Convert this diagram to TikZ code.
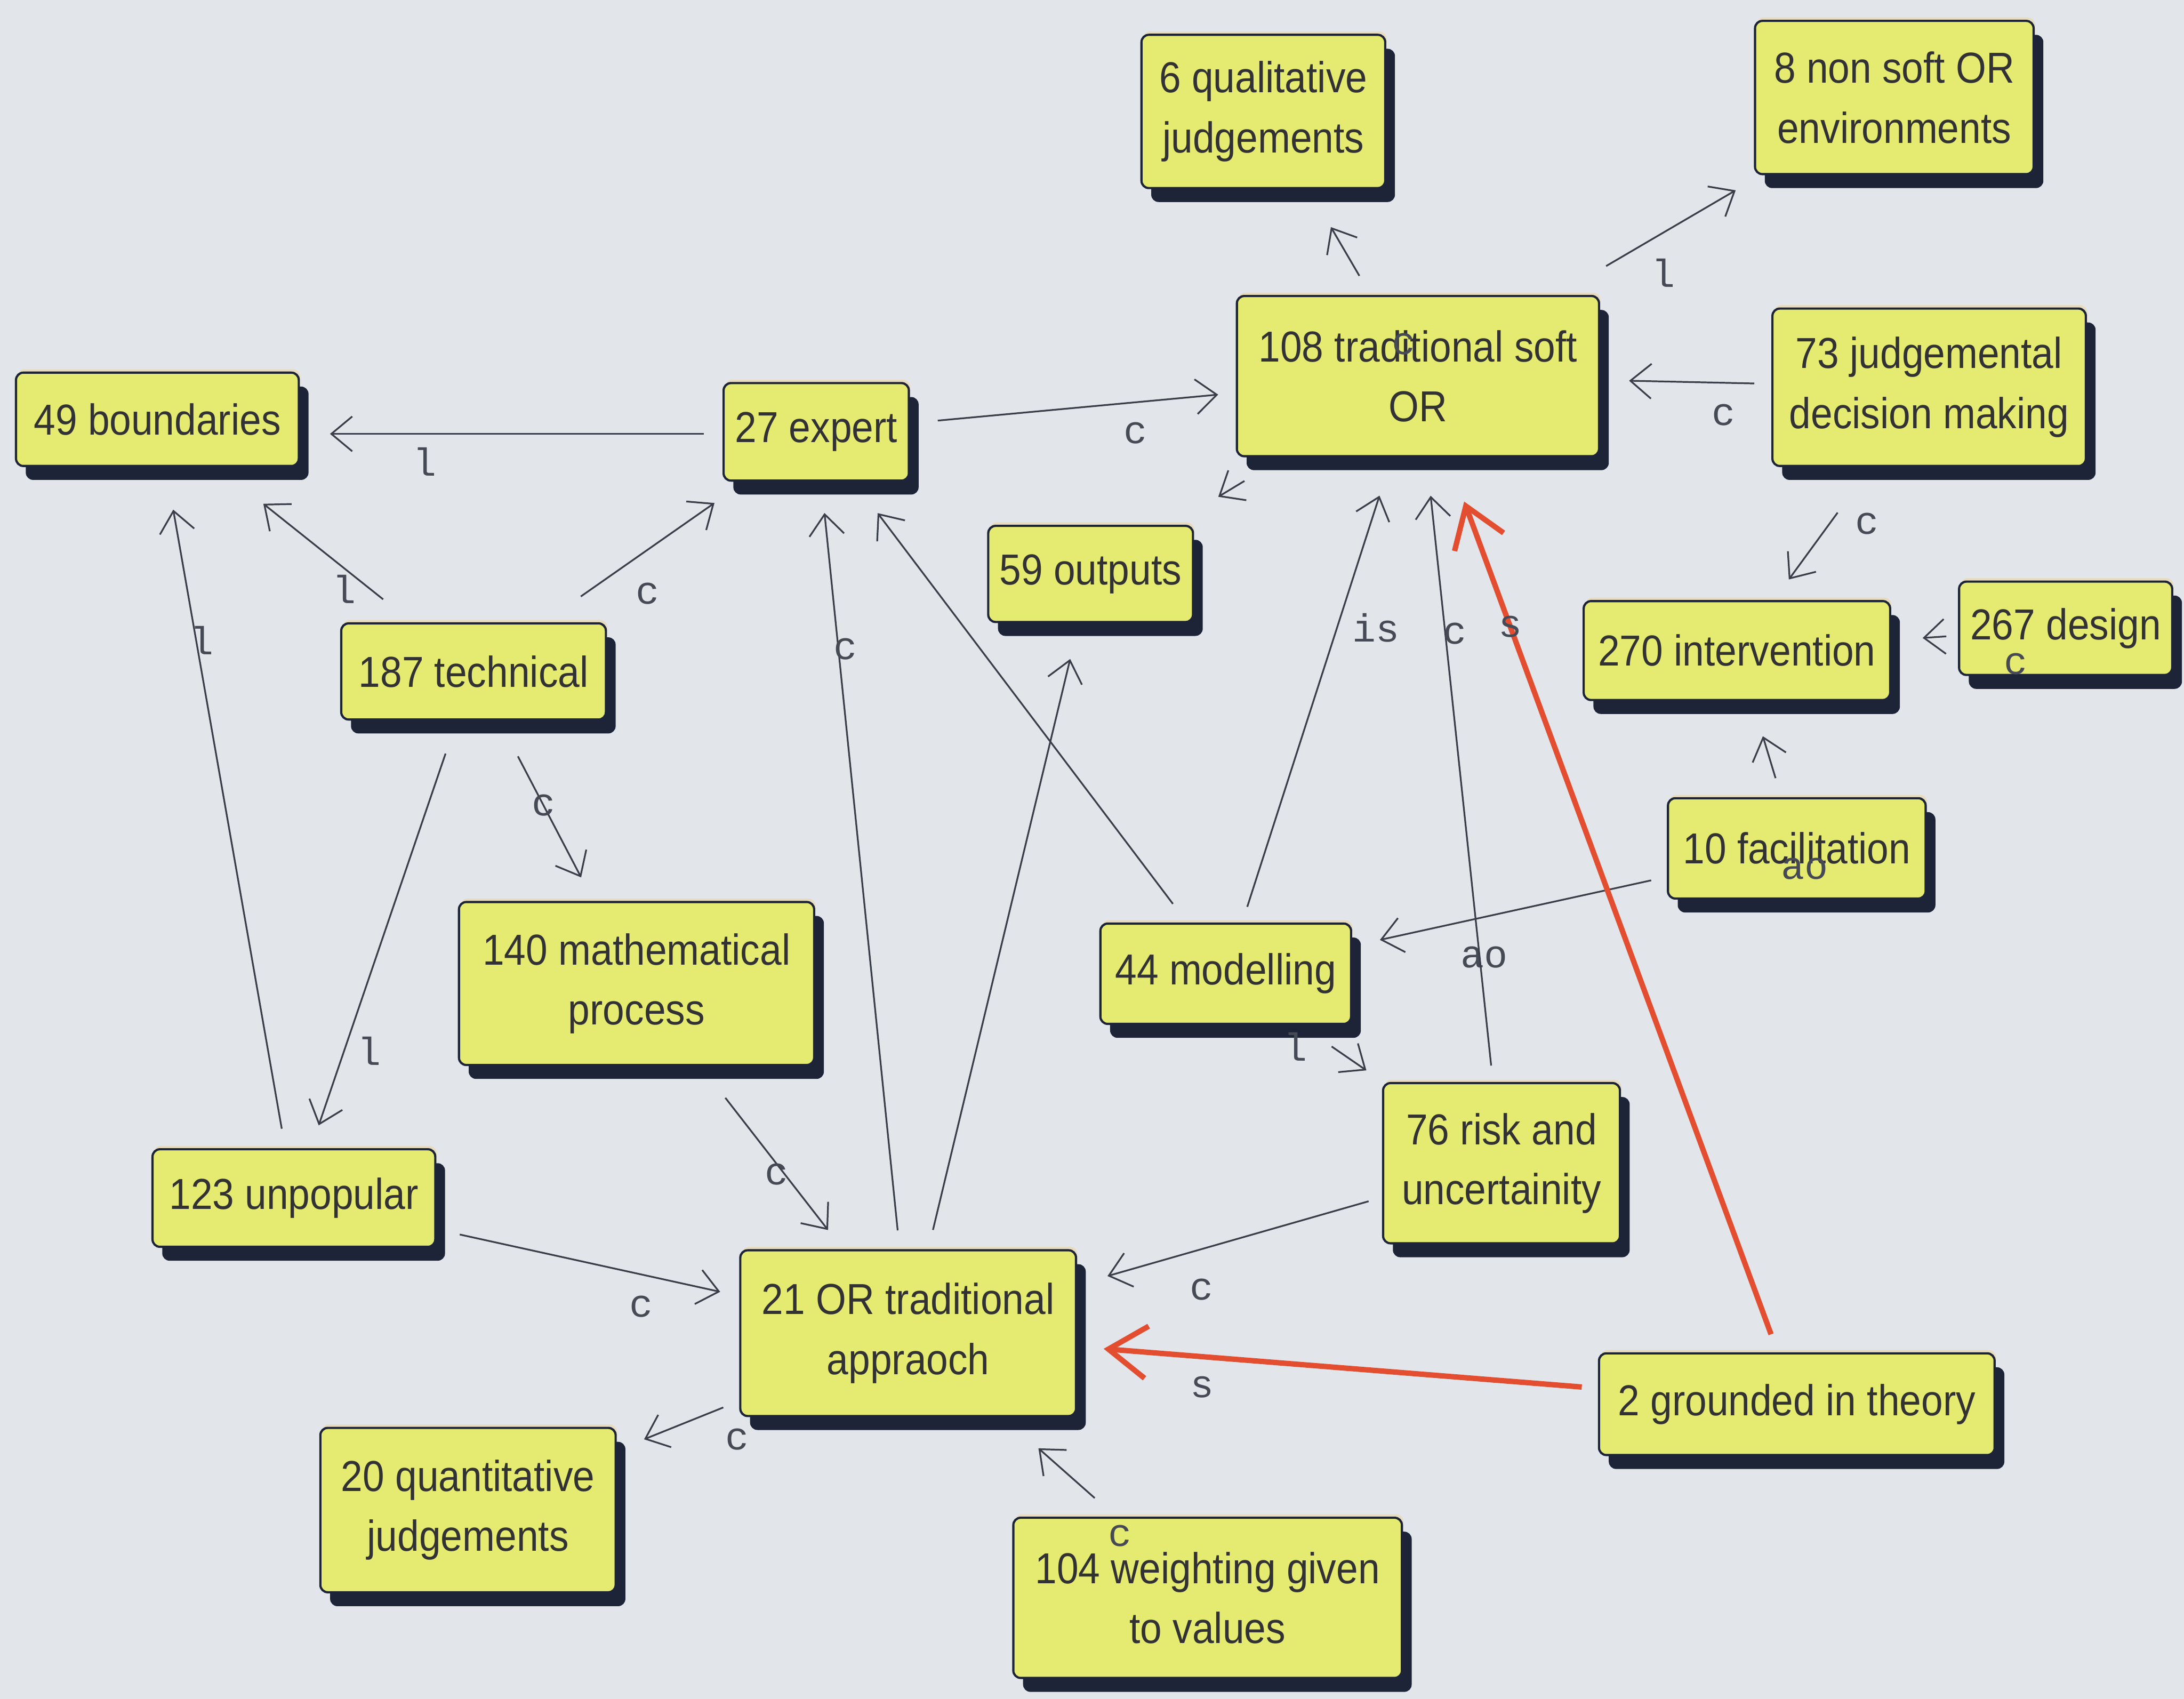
\documentclass[tikz,border=0pt]{standalone}
\usepackage{fontspec}
\usetikzlibrary{arrows.meta,calc,shadows}
\newfontfamily\nodefont[FakeStretch=0.9]{Liberation Sans}
\newfontfamily\lblfont{Liberation Mono}
\definecolor{bgcol}{RGB}{226,230,235}
\definecolor{boxfill}{RGB}{229,234,112}
\definecolor{shadowcol}{RGB}{30,36,56}
\definecolor{hilite}{RGB}{232,220,192}
\definecolor{edgecol}{RGB}{58,62,72}
\definecolor{redcol}{RGB}{228,78,48}
\definecolor{txtcol}{RGB}{50,50,52}
\definecolor{lblcol}{RGB}{70,74,84}
\tikzset{
  box/.style={draw=shadowcol, line width=0.9pt, fill=boxfill, rounded corners=3pt,
    inner sep=0pt, align=center, text=txtcol,
    font=\nodefont\fontsize{17.7}{24.5}\selectfont,
    general shadow={shadow yshift=0.05cm, shadow xshift=0.02cm, fill=hilite},
    drop shadow={shadow xshift=0.14cm, shadow yshift=-0.2cm, fill=shadowcol, opacity=1}},
  arr/.style={draw=edgecol, line width=0.7pt, -{Straight Barb[length=0.3cm,width=0.5cm]}},
  redarr/.style={draw=redcol, line width=2.2pt, -{Straight Barb[length=0.55cm,width=0.75cm]}},
  lbl/.style={font=\lblfont\fontsize{16}{16}\selectfont, text=lblcol, inner sep=0pt}
}
\begin{document}
\begin{tikzpicture}
\useasboundingbox (0,0) rectangle (31.36,-24.39);
\fill[bgcol] (0,0) rectangle (31.36,-24.39);

\node[box, minimum width=3.5cm, minimum height=2.2cm] (q6) at (18.14,-1.60) {6 qualitative\\judgements};
\node[box, minimum width=4.0cm, minimum height=2.2cm] (ns8) at (27.20,-1.40) {8 non soft OR\\environments};
\node[box, minimum width=5.2cm, minimum height=2.3cm] (t108) at (20.36,-5.40) {108 traditional soft\\OR};
\node[box, minimum width=4.5cm, minimum height=2.26cm] (j73) at (27.70,-5.56) {73 judgemental\\decision making};
\node[box, minimum width=4.06cm, minimum height=1.34cm] (b49) at (2.26,-6.02) {49 boundaries};
\node[box, minimum width=2.66cm, minimum height=1.4cm] (e27) at (11.72,-6.20) {27 expert};
\node[box, minimum width=2.94cm, minimum height=1.38cm] (o59) at (15.66,-8.24) {59 outputs};
\node[box, minimum width=3.8cm, minimum height=1.38cm] (t187) at (6.80,-9.64) {187 technical};
\node[box, minimum width=4.4cm, minimum height=1.42cm] (i270) at (24.94,-9.34) {270 intervention};
\node[box, minimum width=3.06cm, minimum height=1.34cm] (d267) at (29.66,-9.02) {267 design};
\node[box, minimum width=3.7cm, minimum height=1.44cm] (f10) at (25.80,-12.18) {10 facilitation};
\node[box, minimum width=5.1cm, minimum height=2.34cm] (m140) at (9.14,-14.12) {140 mathematical\\process};
\node[box, minimum width=3.6cm, minimum height=1.44cm] (m44) at (17.60,-13.98) {44 modelling};
\node[box, minimum width=3.4cm, minimum height=2.3cm] (r76) at (21.56,-16.70) {76 risk and\\uncertainity};
\node[box, minimum width=4.06cm, minimum height=1.4cm] (u123) at (4.22,-17.20) {123 unpopular};
\node[box, minimum width=4.82cm, minimum height=2.38cm] (a21) at (13.04,-19.14) {21 OR traditional\\appraoch};
\node[box, minimum width=5.68cm, minimum height=1.46cm] (g2) at (25.80,-20.16) {2 grounded in theory};
\node[box, minimum width=4.24cm, minimum height=2.36cm] (q20) at (6.72,-21.68) {20 quantitative\\judgements};
\node[box, minimum width=5.58cm, minimum height=2.3cm] (w104) at (17.34,-22.94) {104 weighting given\\to values};

\coordinate (eb1) at ($(e27)!0.171!(b49)+(0,-0.06)$);
\coordinate (eb2) at ($(e27)!0.738!(b49)$);
\draw[arr] (eb1) -- (eb2 |- eb1) node[lbl,pos=0.746,yshift=-0.4cm]{l};
\draw[arr] ($(e27)!0.202!(t108)$) -- ($(e27)!0.668!(t108)$) node[lbl,pos=0.706,yshift=-0.44cm]{c};
\draw[arr] ($(t108)!0.379!(q6)$) -- ($(t108)!0.563!(q6)$) node[lbl,pos=0,xshift=0.64cm,yshift=-0.98cm]{c};
\draw[arr] ($(t108)!0.395!(ns8)$) -- ($(t108)!0.667!(ns8)$) node[lbl,pos=0.44,yshift=-0.58cm]{l};
\draw[arr] ($(j73)!0.342!(t108)$) -- ($(j73)!0.587!(t108)$) node[lbl,pos=0.245,yshift=-0.46cm]{c};
\draw[arr] ($(t108)!0.53!(o59)$) -- ($(t108)!0.61!(o59)$);
\draw[arr] ($(j73)!0.476!(i270)$) -- ($(j73)!0.73!(i270)$) node[lbl,pos=0.17,xshift=0.54cm]{c};
\draw[arr] ($(d267)!0.363!(i270)$) -- ($(d267)!0.435!(i270)$) node[lbl,pos=0,xshift=1.0cm,yshift=-0.4cm]{c};
\draw[arr] ($(f10)!0.355!(i270)$) -- ($(f10)!0.567!(i270)$) node[lbl,pos=0,xshift=0.42cm,yshift=-1.3cm]{ao};
\draw[arr] ($(f10)!0.255!(m44)$) -- ($(f10)!0.73!(m44)$) node[lbl,pos=0.615,yshift=-0.58cm]{ao};
\draw[arr] ($(t187)!0.286!(b49)$) -- ($(t187)!0.665!(b49)$) node[lbl,pos=0.327,yshift=-0.3cm]{l};
\draw[arr] ($(t187)!0.313!(e27)$) -- ($(t187)!0.703!(e27)$) node[lbl,pos=0.5,yshift=-0.63cm]{c};
\draw[arr] ($(u123)!0.089!(b49)$) -- ($(u123)!0.884!(b49)$) node[lbl,pos=0.789,xshift=0.08cm]{l};
\draw[arr] ($(t187)!0.156!(u123)$) -- ($(t187)!0.862!(u123)$) node[lbl,pos=0.8,xshift=0.36cm]{l};
\draw[arr] ($(t187)!0.272!(m140)$) -- ($(t187)!0.66!(m140)$) node[lbl,pos=0.405]{c};
\draw[arr] ($(a21)!0.114!(e27)$) -- ($(a21)!0.91!(e27)$) node[lbl,pos=0.81,xshift=0.1cm]{c};
\draw[arr] ($(a21)!0.136!(o59)$) -- ($(a21)!0.888!(o59)$);
\draw[arr] ($(m44)!0.129!(e27)$) -- ($(m44)!0.85!(e27)$);
\draw[arr] ($(m44)!0.112!(t108)$) -- ($(m44)!0.8!(t108)$) node[lbl,pos=0.679,xshift=0.56cm]{is};
\draw[arr] ($(r76)!0.124!(t108)$) -- ($(r76)!0.848!(t108)$) node[lbl,pos=0.758,xshift=0.14cm]{c};
\draw[redarr] ($(g2)!0.068!(t108)$) -- ($(g2)!0.878!(t108)$) node[lbl,pos=0.85]{s};
\draw[redarr] ($(g2)!0.242!(a21)$) -- ($(g2)!0.78!(a21)$) node[lbl,pos=0.794,yshift=-0.44cm]{s};
\draw[arr] ($(m44)!0.384!(r76)$) -- ($(m44)!0.51!(r76)$) node[lbl,pos=0,xshift=-0.52cm]{l};
\draw[arr] ($(m140)!0.327!(a21)$) -- ($(m140)!0.705!(a21)$) node[lbl,pos=0.58,xshift=-0.12cm]{c};
\draw[arr] ($(u123)!0.27!(a21)$) -- ($(u123)!0.694!(a21)$) node[lbl,pos=0.696,yshift=-0.46cm]{c};
\draw[arr] ($(r76)!0.224!(a21)$) -- ($(r76)!0.664!(a21)$) node[lbl,pos=0.64,yshift=-0.58cm]{c};
\draw[arr] ($(a21)!0.42!(q20)$) -- ($(a21)!0.6!(q20)$) node[lbl,pos=0,xshift=0.2cm,yshift=-0.46cm]{c};
\draw[arr] ($(w104)!0.377!(a21)$) -- ($(w104)!0.565!(a21)$) node[lbl,pos=0,xshift=0.36cm,yshift=-0.54cm]{c};
\end{tikzpicture}
\end{document}
